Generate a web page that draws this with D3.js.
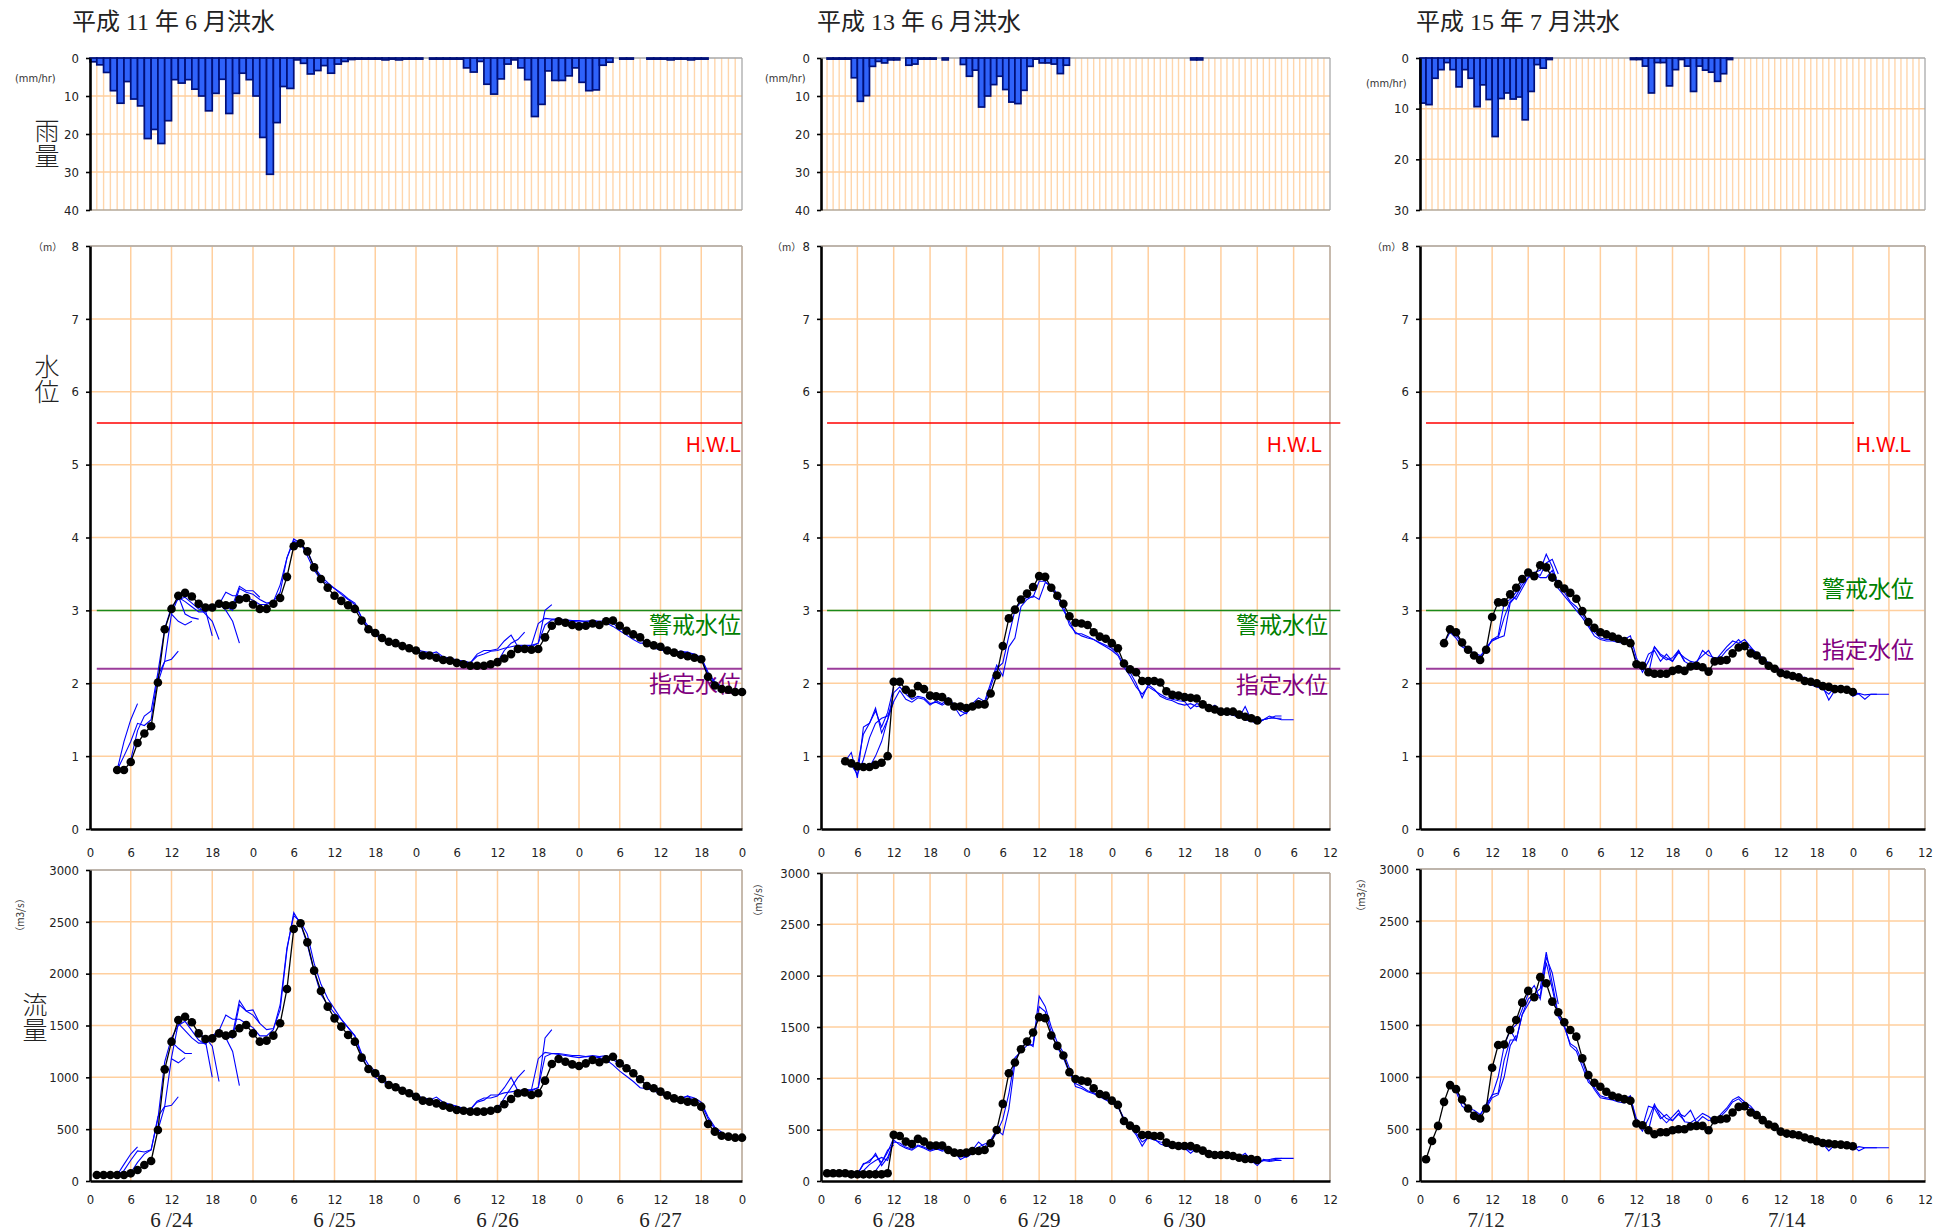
<!DOCTYPE html>
<html><head><meta charset="utf-8">
<script src="https://cdn.jsdelivr.net/npm/d3@7/dist/d3.min.js"></script>
<style>
body{margin:0;background:#fff;}
svg{display:block;}
</style></head><body>
<svg id="c" width="1950" height="1232"></svg>
<script>
// ================= DATA =================
const titles = ["平成 11 年 6 月洪水", "平成 13 年 6 月洪水", "平成 15 年 7 月洪水"];
const dateLabels1 = ["6 /24", "6 /25", "6 /26", "6 /27"];
const dateLabels2 = ["6 /28", "6 /29", "6 /30"];
const dateLabels3 = ["7/12", "7/13", "7/14"];
const hourTickLabels = ["0","6","12","18"];
const rainTicks40 = [0, 10, 20, 30, 40];
const rainTicks30 = [0, 10, 20, 30];
const levelTicks = [0, 1, 2, 3, 4, 5, 6, 7, 8];
const flowTicks = [0, 500, 1000, 1500, 2000, 2500, 3000];
const thresholdNames = ["H.W.L", "警戒水位", "指定水位"];
const thresholdLevels = [5.57, 3.0, 2.2];
const axisTitles = ["雨量", "水位", "流量"];

// hourly rainfall (mm/hr), index = hour from start of first day
const rain1 = [1.0,1.8,3.8,8.6,11.9,6.2,10.8,12.6,21.2,18.8,22.5,16.5,5.7,6.6,5.7,8.2,10.0,13.9,9.3,5.6,
 14.6,9.3,4.0,5.7,10.0,20.9,30.6,17.0,7.5,8.0,0.5,1.4,4.2,3.3,2.0,4.0,1.6,0.9,0.4,0.3,
 0.3,0.3,0.3,0.5,0.3,0.5,0.3,0.3,0.3,null,0.3,0.3,0.3,0.3,0.3,2.6,3.7,0.9,6.9,9.5,
 5.5,1.6,0.5,2.6,5.7,15.4,12.2,3.4,5.9,5.9,4.7,2.6,6.4,8.6,8.4,1.9,1.1,null,0.3,0.3,
 null,null,0.3,0.3,0.3,0.5,0.3,0.3,0.5,0.3,0.3,null,null,null,null,null];
const rain2 = [null,0.3,0.3,0.3,0.3,5.2,11.4,9.9,2.2,0.9,1.3,0.5,0.5,null,1.9,1.6,0.3,0.3,0.3,null,
 0.5,null,null,1.7,4.8,3.2,12.9,10.0,7.0,4.8,8.3,11.6,12.0,8.5,2.2,0.3,1.3,1.3,1.6,4.1,
 1.9,null,null,null,null,null,null,null,null,null,null,null,null,null,null,null,null,null,null,null,
 null,0.5,0.5,null,null,null,null,null,null,null,null,null,null,null,null,null,null,null,null,null,
 null,null,null,null];
const rain3 = [8.9,9.2,4.0,2.3,0.9,2.3,5.7,2.3,4.0,9.6,5.3,8.2,15.5,8.0,6.9,8.1,7.7,12.2,6.6,1.3,
 2.0,0.3,null,null,null,null,null,null,null,null,null,null,null,null,null,0.3,0.3,1.6,6.9,0.9,
 0.9,5.5,2.3,0.3,1.6,6.6,1.6,2.4,2.8,4.6,3.1,0.3,null,null,null,null,null,null,null,null,
 null,null,null,null,null,null,null,null,null,null,null,null,null,null,null,null,null,null,null,null,
 null,null,null,null];

// observed water level (m), hourly from given start hour
const level1Start = 4;
const level1Obs = [0.81,0.81,0.92,1.18,1.31,1.41,2.01,2.74,3.02,3.20,3.24,3.19,3.09,3.04,3.04,3.09,3.07,3.07,3.15,3.17,
 3.08,3.02,3.02,3.09,3.17,3.46,3.88,3.92,3.81,3.59,3.43,3.31,3.20,3.13,3.07,3.02,2.86,2.74,2.69,2.62,
 2.57,2.55,2.51,2.48,2.45,2.38,2.38,2.35,2.32,2.31,2.28,2.26,2.24,2.24,2.24,2.26,2.29,2.34,2.40,2.47,
 2.47,2.46,2.47,2.63,2.79,2.85,2.83,2.80,2.78,2.79,2.82,2.80,2.85,2.86,2.79,2.72,2.67,2.63,2.55,2.52,
 2.50,2.45,2.42,2.39,2.37,2.35,2.33,2.09,1.97,1.92,1.91,1.88,1.88];
const level2Start = 4;
const level2Obs = [0.93,0.90,0.86,0.85,0.85,0.88,0.91,1.00,2.02,2.02,1.91,1.86,1.96,1.92,1.83,1.82,1.81,1.75,1.68,1.68,
 1.66,1.68,1.71,1.71,1.86,2.11,2.51,2.89,3.01,3.15,3.23,3.32,3.47,3.46,3.31,3.20,3.09,2.92,2.83,2.82,
 2.80,2.70,2.64,2.61,2.55,2.48,2.27,2.19,2.15,2.03,2.03,2.03,2.01,1.89,1.84,1.83,1.81,1.80,1.79,1.71,
 1.66,1.64,1.61,1.61,1.61,1.57,1.54,1.52,1.49];
const level3Start = 4;
const level3Obs = [2.55,2.74,2.70,2.56,2.46,2.38,2.32,2.46,2.91,3.11,3.11,3.22,3.31,3.43,3.52,3.47,3.62,3.59,3.45,3.36,
 3.30,3.24,3.16,2.99,2.84,2.76,2.70,2.67,2.64,2.61,2.58,2.55,2.26,2.24,2.15,2.13,2.13,2.13,2.17,2.19,
 2.17,2.23,2.24,2.22,2.16,2.30,2.31,2.32,2.41,2.49,2.51,2.41,2.38,2.31,2.24,2.20,2.14,2.12,2.10,2.08,
 2.03,2.02,2.00,1.96,1.95,1.92,1.92,1.91,1.88];

// observed discharge (m3/s)
const flow1Start = 1;
const flow1Obs = [58,58,58,58,58,74,106,154,193,492,1077,1344,1553,1585,1531,1424,1370,1376,1424,1402,
 1418,1473,1505,1424,1344,1354,1402,1521,1852,2431,2486,2302,2029,1833,1682,1569,1489,1408,1344,1190,
 1080,1039,984,926,904,871,846,813,775,765,749,727,707,685,678,669,669,669,678,694,
 740,791,846,855,830,846,968,1129,1177,1151,1125,1109,1135,1167,1145,1174,1199,1135,1087,1039,
 981,916,894,862,826,797,781,765,759,717,550,476,437,428,418,418];
const flow2Start = 1;
const flow2Obs = [75,75,75,75,65,65,65,65,65,65,75,449,439,384,361,410,384,345,345,345,
 302,276,270,276,292,292,302,367,497,751,1050,1154,1284,1358,1446,1596,1586,1417,1316,1222,
 1060,994,978,968,903,848,832,783,741,585,539,507,448,448,439,439,374,351,341,341,
 341,318,296,263,253,253,253,244,227,214,214,205];
const flow3Start = 1;
const flow3Obs = [209,385,530,761,922,883,784,697,626,601,697,1089,1307,1313,1452,1548,1715,1828,1767,1960,
 1902,1725,1622,1526,1452,1388,1179,1018,944,906,858,819,803,787,771,553,536,488,450,469,
 469,488,498,498,524,530,530,488,585,594,601,659,713,720,659,633,585,543,520,475,
 456,450,440,418,402,382,366,360,353,350,344,334];

// forecast (blue) series: hourly values from start hour
const level1FcA = {s:4, v:[0.81,1.0,1.2,1.45,1.42,1.5,2.1,2.3,2.95,3.18,3.12,3.05,2.98,2.98,3.05,3.1,3.05,3.0,3.3,3.25,
 3.22,3.15,3.1,3.12,3.25,3.72,3.98,3.92,3.75,3.55,3.42,3.36,3.3,3.24,3.16,3.1,2.9,2.74,2.66,2.6,
 2.56,2.53,2.5,2.47,2.44,2.42,2.4,2.43,2.36,2.35,2.32,2.3,2.28,2.37,2.4,2.44,2.45,2.48,2.5,2.52,
 2.52,2.52,2.82,2.89,2.88,2.88,2.87,2.86,2.86,2.85,2.85,2.84,2.83,2.78,2.72,2.66,2.6,2.55,2.55,2.48,
 2.46,2.43,2.42,2.41,2.43,2.38,2.35,2.12,2.0,1.94,1.9]};
const level1FcB = {s:6, v:[0.95,1.35,1.55,1.62,2.15,2.75,3.05,3.15,3.18,3.1,3.02,3.0,3.05,3.08,3.25,3.2,3.2,3.18,3.14,3.08,
 3.08,3.12,3.35,3.72,3.95,3.9,3.82,3.6,3.47,3.38,3.3,3.22,3.15,3.08,2.9,2.78,2.7,2.63,2.58,2.56,
 2.52,2.5,2.46,2.44,2.42,2.38,2.35,2.33,2.31,2.3,2.28,2.4,2.45,2.45,2.47,2.58,2.66,2.5,2.5,2.52,
 2.55,2.8,2.87,2.87,2.86,2.85,2.84,2.85,2.86,2.85,2.86,2.82,2.76,2.7,2.65,2.6,2.55,2.5,2.48,2.44,
 2.42,2.44,2.42,2.4,2.35,2.15,2.02,1.96]};
const level1Runs = [{s:4,v:[0.81,1.2,1.5,1.72]},{s:10,v:[2.01,2.3,2.33,2.44]},{s:12,v:[2.95,2.85,2.8,2.85]},
 {s:13,v:[3.2,2.95,2.9,2.88]},{s:16,v:[3.09,3.0,2.65]},{s:16,v:[3.05,2.95,2.85,2.6]},{s:19,v:[3.09,3.0,2.85,2.55]},
 {s:21,v:[3.07,3.33,3.27,3.27,3.18]},{s:60,v:[2.29,2.45,2.55,2.6,2.7]},{s:64,v:[2.47,2.5,2.55,3.0,3.08]}];
const flow1FcA = {s:4, v:[58,100,200,290,280,300,620,720,1190,1520,1450,1380,1330,1330,1400,1430,1400,1380,1700,1640,
 1600,1520,1460,1470,1650,2230,2590,2480,2280,2020,1800,1700,1620,1560,1480,1400,1200,1080,1000,960,
 920,890,870,840,820,800,780,810,760,740,720,700,690,760,780,830,830,850,860,870,
 880,880,1180,1240,1230,1230,1220,1210,1210,1200,1200,1190,1170,1120,1060,1010,960,900,890,870,
 840,810,800,790,820,770,740,600,500,450]};
const flow1FcB = {s:6, v:[80,180,260,300,600,1150,1380,1500,1540,1450,1360,1320,1400,1450,1600,1560,1560,1520,1480,1400,
 1400,1460,1700,2250,2560,2500,2380,2100,1900,1760,1660,1560,1480,1400,1230,1120,1060,1000,940,920,
 890,860,830,800,790,770,750,730,720,700,690,770,800,800,820,900,1000,870,880,870,
 900,1200,1230,1220,1210,1200,1190,1200,1210,1200,1210,1170,1130,1080,1030,970,930,900,870,840,
 810,800,820,800,760,620,520,470]};
const flow1Runs = [{s:4,v:[58,160,260,330]},{s:10,v:[492,717,730,813]},{s:12,v:[1180,1140,1190]},
 {s:12,v:[1344,1280,1230,1230]},{s:16,v:[1424,1350,1000]},{s:16,v:[1424,1380,1300,960]},{s:19,v:[1424,1380,1250,920]},
 {s:21,v:[1418,1740,1640,1650,1520]},{s:60,v:[694,800,900,1000,1070]},{s:64,v:[855,880,900,1380,1460]}];

const level2FcA = {s:4, v:[0.93,1.05,0.7,1.4,1.45,1.66,1.32,1.5,1.87,1.95,1.85,1.78,1.82,1.8,1.72,1.74,1.7,1.75,1.68,1.55,
 1.6,1.7,1.75,1.72,1.95,2.2,2.28,2.65,3.0,3.12,3.18,3.18,3.4,3.4,3.3,3.18,3.0,2.85,2.68,2.68,
 2.64,2.6,2.55,2.5,2.45,2.38,2.22,2.1,1.95,1.85,1.95,1.9,1.85,1.8,1.78,1.76,1.75,1.65,1.72,1.7,
 1.68,1.62,1.65,1.6,1.58,1.55,1.5,1.48,1.45,1.5,1.55,1.52,1.5,1.5,1.5]};
const level2FcB = {s:5, v:[0.88,0.75,0.95,1.25,1.45,1.52,1.55,1.75,1.9,1.78,1.74,1.8,1.78,1.7,1.76,1.72,1.8,1.7,1.62,
 1.58,1.72,1.8,1.75,2.0,2.25,2.1,2.5,2.62,3.05,3.15,3.2,3.15,3.38,3.35,3.22,3.05,2.8,2.7,2.65,
 2.62,2.6,2.56,2.52,2.48,2.4,2.25,2.15,2.0,1.8,1.98,1.92,1.82,1.78,1.76,1.72,1.7,1.72,1.68,1.7,
 1.65,1.7,1.62,1.58,1.56,1.53,1.68,1.5,1.48,1.5,1.52,1.52,1.52]};
const level2Runs = [{s:6,v:[0.86,1.3,1.45,1.62,1.4,1.6,1.95]},{s:8,v:[0.85,1.0,1.2,1.5,1.75]},
 {s:70,v:[1.54,1.52,1.45,1.5,1.52,1.55,1.55]}];
const flow2FcA = {s:5, v:[65,65,170,180,270,150,230,380,370,330,310,350,330,300,320,290,310,280,250,
 230,270,330,360,380,470,600,850,1200,1260,1320,1330,1800,1700,1500,1350,1250,1100,920,900,
 870,850,820,790,760,720,600,540,470,380,420,400,380,370,350,330,320,270,320,300,
 290,270,280,260,250,240,230,200,150,210,200,210,220,220,220]};
const flow2FcB = {s:6, v:[65,100,160,200,230,200,400,350,320,300,340,320,290,310,300,330,290,210,
 240,300,380,330,400,500,450,700,1150,1300,1350,1310,1700,1650,1450,1300,1200,1050,950,920,
 880,860,830,800,770,730,610,530,450,340,430,410,360,340,330,320,310,300,310,290,
 280,270,270,250,240,230,270,200,190,200,190,200,200]};
const flow2Runs = [{s:6,v:[65,160,200,250,180,280,420]},{s:8,v:[65,100,180,300,350]},
 {s:70,v:[214,205,170,200,210,220,220]}];

const level3FcA = {s:4, v:[2.55,2.7,2.62,2.5,2.45,2.42,2.38,2.45,2.6,2.65,3.1,3.15,3.25,3.4,3.5,3.52,3.55,3.77,3.6,3.35,
 3.25,3.12,3.05,2.95,2.8,2.7,2.62,2.6,2.6,2.58,2.6,2.65,2.35,2.15,2.3,2.5,2.38,2.32,2.35,2.45,
 2.3,2.25,2.3,2.38,2.45,2.3,2.4,2.5,2.58,2.55,2.6,2.5,2.4,2.35,2.28,2.22,2.18,2.15,2.12,2.1,
 2.05,2.02,1.98,1.95,1.77,1.9,1.93,1.92,1.9,1.85,1.78,1.85,1.85,1.85,1.85]};
const level3FcB = {s:5, v:[2.7,2.66,2.55,2.44,2.4,2.35,2.5,2.58,2.62,2.9,3.12,3.2,3.35,3.45,3.5,3.45,3.45,3.55,3.3,
 3.2,3.1,3.0,2.9,2.78,2.65,2.6,2.58,2.58,2.56,2.55,2.55,2.3,2.2,2.4,2.45,2.3,2.4,2.3,2.42,
 2.35,2.3,2.28,2.45,2.38,2.35,2.35,2.45,2.52,2.6,2.5,2.48,2.42,2.34,2.26,2.2,2.16,2.14,2.1,2.08,
 2.08,1.98,1.95,1.92,1.85,1.95,1.9,1.92,1.82,1.86,1.84,1.85,1.85]};
const level3Runs = [{s:11,v:[2.46,2.6,2.62,2.65,3.1,3.2]},{s:15,v:[3.22,3.15,3.3,3.45,3.5,3.48,3.65,3.7,3.5]},
 {s:38,v:[2.13,2.5,2.4,2.35,2.3,2.45,2.3]}];
const flow3FcA = {s:5, v:[922,880,760,700,680,640,713,829,845,1163,1356,1356,1600,1750,1800,1850,2200,1900,1600,
 1500,1300,1250,1100,950,900,820,800,800,790,780,820,560,480,600,740,620,560,620,680,
 570,560,600,650,620,570,640,700,780,810,760,720,650,600,560,520,480,460,450,440,
 420,400,380,360,290,350,360,350,340,290,320,320,320,320,320]};
const flow3FcB = {s:5, v:[920,860,720,680,650,630,740,820,1000,1300,1450,1500,1650,1800,1880,1750,2100,1850,1580,
 1480,1320,1280,1150,980,880,800,790,780,760,750,800,600,520,720,700,600,640,580,650,
 620,680,560,620,580,600,620,680,760,790,730,700,640,590,550,510,470,460,440,430,
 410,390,370,350,330,360,340,340,300,330,320,320,320]};
const flow3Runs = [{s:11,v:[697,800,830,1000,1300,1400]},{s:15,v:[1452,1350,1600,1700,1800,1780,2150,2000,1700]},
 {s:38,v:[488,720,660,600,580,640,580]}];

// ================= LAYOUT / STYLE =================
const GRID = "#FFCF9E";
const GRID_THIN = "#FFD6AC";
const BORDER = "#A9A9A9";
const TICKFONT = "'Liberation Sans Narrow','DejaVu Sans Condensed','Liberation Sans',sans-serif";
const CJK = "'Noto Sans CJK JP','Noto Sans CJK SC',sans-serif";
const SERIF = "'Liberation Serif','Noto Sans CJK JP',serif";
const RAIN_TOP = 58, RAIN_BOT = 210;
const LV_TOP = 246, LV_BOT = 829;
const FL_BOT = 1181;

const panels = [
  {x0:90, x1:742, hours:96, rain:rain1, rainTicks:rainTicks40, title:titles[0], titleX:72,
   lvStart:level1Start, lvObs:level1Obs, lvFc:[level1FcA, level1FcB], lvRuns:level1Runs,
   flStart:flow1Start, flObs:flow1Obs, flFc:[flow1FcA, flow1FcB], flRuns:flow1Runs,
   flTop:870, thrHours:[1,96], dates:dateLabels1, dateHours:[12,36,60,84],
   mmX:15, mmY:82, mX:33, m3X:19, m3Y:915,
   thrText:[[741,452],[741,633],[741,692]], hwlW:55},
  {x0:821, x1:1330, hours:84, rain:rain2, rainTicks:rainTicks40, title:titles[1], titleX:817,
   lvStart:level2Start, lvObs:level2Obs, lvFc:[level2FcA, level2FcB], lvRuns:level2Runs,
   flStart:flow2Start, flObs:flow2Obs, flFc:[flow2FcA, flow2FcB], flRuns:flow2Runs,
   flTop:873, thrHours:[1,85.7], dates:dateLabels2, dateHours:[12,36,60],
   mmX:765, mmY:82, mX:772, m3X:757, m3Y:900,
   thrText:[[1322,452],[1328,633],[1328,693]], hwlW:55},
  {x0:1420, x1:1925, hours:84, rain:rain3, rainTicks:rainTicks30, title:titles[2], titleX:1416,
   lvStart:level3Start, lvObs:level3Obs, lvFc:[level3FcA, level3FcB], lvRuns:level3Runs,
   flStart:flow3Start, flObs:flow3Obs, flFc:[flow3FcA, flow3FcB], flRuns:flow3Runs,
   flTop:869, thrHours:[1,72.2], dates:dateLabels3, dateHours:[11,37,61],
   mmX:1366, mmY:87, mX:1372, m3X:1360, m3Y:895,
   thrText:[[1911,452],[1914,597],[1914,658]], hwlW:55}
];
const thrColors = ["#FF0000", "#008000", "#800080"];
const thrLineColors = ["#FF0000", "#1A8A1A", "#9B3C9B"];

const svg = d3.select("#c");
svg.append("rect").attr("width",1950).attr("height",1232).attr("fill","#fff");

function series(start, arr){ return arr.map((v,i)=>({h:start+i, v})).filter(d=>d.v!=null); }

function frame(g, x0, x1, yTop, yBot){
  g.append("line").attr("x1",x0).attr("x2",x1).attr("y1",yTop).attr("y2",yTop).attr("stroke",BORDER).attr("stroke-width",1.3);
  g.append("line").attr("x1",x1).attr("x2",x1).attr("y1",yTop).attr("y2",yBot).attr("stroke",BORDER).attr("stroke-width",1.3);
}

function styleAxis(ax){
  ax.select(".domain").attr("stroke","#000").attr("stroke-width",2.6);
  ax.selectAll(".tick line").attr("stroke","#000").attr("stroke-width",1.6);
  ax.selectAll(".tick text").attr("font-family",TICKFONT).attr("font-size",13).attr("fill","#222");
}

panels.forEach((p, pi) => {
  const x = d3.scaleLinear().domain([0, p.hours]).range([p.x0, p.x1]);
  const sixes = d3.range(0, p.hours + 1, 6);

  // ---------- title ----------
  svg.append("text").attr("x", p.titleX).attr("y", 30).text(p.title)
    .attr("font-family", SERIF).attr("font-size", 24).attr("fill", "#222");

  // ---------- rain ----------
  const rainMax = p.rainTicks[p.rainTicks.length-1];
  const yR = d3.scaleLinear().domain([0, rainMax]).range([RAIN_TOP, RAIN_BOT]);
  const gR = svg.append("g");
  gR.selectAll(".vg").data(d3.range(1, p.hours)).join("line")
    .attr("x1", d=>x(d)).attr("x2", d=>x(d)).attr("y1", RAIN_TOP).attr("y2", RAIN_BOT)
    .attr("stroke", GRID_THIN).attr("stroke-width", 1.4);
  gR.selectAll(".hg").data(p.rainTicks.slice(1)).join("line")
    .attr("x1", p.x0).attr("x2", p.x1).attr("y1", d=>yR(d)).attr("y2", d=>yR(d))
    .attr("stroke", d => d===rainMax ? "#B5A898" : GRID).attr("stroke-width", 1.5);
  frame(gR, p.x0, p.x1, RAIN_TOP, RAIN_BOT);
  gR.selectAll("rect.bar").data(p.rain.map((v,i)=>({i,v})).filter(d=>d.v!=null)).join("rect")
    .attr("class","bar")
    .attr("x", d=>x(d.i)).attr("width", d=>x(d.i+1)-x(d.i))
    .attr("y", RAIN_TOP).attr("height", d=>yR(d.v)-RAIN_TOP)
    .attr("fill", "#2F62FA").attr("stroke", "#00107A").attr("stroke-width", 1.7);
  const axR = gR.append("g").attr("transform", `translate(${p.x0},0)`)
    .call(d3.axisLeft(yR).tickValues(p.rainTicks).tickSize(4).tickSizeOuter(0).tickPadding(7));
  styleAxis(axR);
  svg.append("text").attr("x", p.mmX).attr("y", p.mmY).text("(mm/hr)")
    .attr("font-family", TICKFONT).attr("font-size", 11).attr("fill","#333");

  // ---------- level ----------
  const yL = d3.scaleLinear().domain([0, 8]).range([LV_BOT, LV_TOP]);
  const gL = svg.append("g");
  gL.selectAll(".vg").data(sixes.slice(1)).join("line")
    .attr("x1", d=>x(d)).attr("x2", d=>x(d)).attr("y1", LV_TOP).attr("y2", LV_BOT)
    .attr("stroke", GRID).attr("stroke-width", 1.5);
  gL.selectAll(".hg").data(levelTicks.slice(1)).join("line")
    .attr("x1", p.x0).attr("x2", p.x1).attr("y1", d=>yL(d)).attr("y2", d=>yL(d))
    .attr("stroke", GRID).attr("stroke-width", 1.5);
  frame(gL, p.x0, p.x1, LV_TOP, LV_BOT);
  thresholdLevels.forEach((lv, k) => {
    gL.append("line").attr("x1", x(p.thrHours[0])).attr("x2", x(p.thrHours[1]))
      .attr("y1", yL(lv)).attr("y2", yL(lv)).attr("stroke", thrLineColors[k]).attr("stroke-width", k===2 ? 2 : 1.5);
    const t = gL.append("text").attr("x", p.thrText[k][0]).attr("y", p.thrText[k][1])
      .attr("text-anchor", "end").attr("fill", thrColors[k]).text(thresholdNames[k]);
    if (k === 0) {
      t.attr("font-family", "'Liberation Sans',sans-serif").attr("font-size", 22)
       .attr("textLength", p.hwlW).attr("lengthAdjust", "spacingAndGlyphs");
    } else {
      t.attr("font-family", CJK).attr("font-size", 23);
    }
  });
  const lineL = d3.line().x(d=>x(d.h)).y(d=>yL(d.v));
  p.lvFc.concat(p.lvRuns).forEach(r => {
    gL.append("path").attr("d", lineL(series(r.s, r.v))).attr("fill","none")
      .attr("stroke","#0000FF").attr("stroke-width",1.1);
  });
  const obsL = series(p.lvStart, p.lvObs);
  gL.append("path").attr("d", lineL(obsL)).attr("fill","none").attr("stroke","#000").attr("stroke-width",1.3);
  gL.selectAll("circle").data(obsL).join("circle")
    .attr("cx", d=>x(d.h)).attr("cy", d=>yL(d.v)).attr("r", 4.3).attr("fill","#000");
  const axL = gL.append("g").attr("transform", `translate(${p.x0},0)`)
    .call(d3.axisLeft(yL).tickValues(levelTicks).tickSize(4).tickSizeOuter(0).tickPadding(7));
  styleAxis(axL);
  const axLB = gL.append("g").attr("transform", `translate(0,${LV_BOT})`)
    .call(d3.axisBottom(x).tickValues(sixes).tickSize(0).tickPadding(19).tickFormat(d => hourTickLabels[(d%24)/6]));
  styleAxis(axLB);
  svg.append("text").attr("x", p.mX).attr("y", 251).text("（m）")
    .attr("font-family", CJK).attr("font-size", 10).attr("fill","#333");

  // ---------- flow ----------
  const yF = d3.scaleLinear().domain([0, 3000]).range([FL_BOT, p.flTop]);
  const gF = svg.append("g");
  gF.selectAll(".vg").data(sixes.slice(1)).join("line")
    .attr("x1", d=>x(d)).attr("x2", d=>x(d)).attr("y1", p.flTop).attr("y2", FL_BOT)
    .attr("stroke", GRID).attr("stroke-width", 1.5);
  gF.selectAll(".hg").data(flowTicks.slice(1)).join("line")
    .attr("x1", p.x0).attr("x2", p.x1).attr("y1", d=>yF(d)).attr("y2", d=>yF(d))
    .attr("stroke", GRID).attr("stroke-width", 1.5);
  frame(gF, p.x0, p.x1, p.flTop, FL_BOT);
  const lineF = d3.line().x(d=>x(d.h)).y(d=>yF(d.v));
  p.flFc.concat(p.flRuns).forEach(r => {
    gF.append("path").attr("d", lineF(series(r.s, r.v))).attr("fill","none")
      .attr("stroke","#0000FF").attr("stroke-width",1.1);
  });
  const obsF = series(p.flStart, p.flObs);
  gF.append("path").attr("d", lineF(obsF)).attr("fill","none").attr("stroke","#000").attr("stroke-width",1.3);
  gF.selectAll("circle").data(obsF).join("circle")
    .attr("cx", d=>x(d.h)).attr("cy", d=>yF(d.v)).attr("r", 4.3).attr("fill","#000");
  const axF = gF.append("g").attr("transform", `translate(${p.x0},0)`)
    .call(d3.axisLeft(yF).tickValues(flowTicks).tickSize(4).tickSizeOuter(0).tickPadding(7).tickFormat(d3.format("d")));
  styleAxis(axF);
  const axFB = gF.append("g").attr("transform", `translate(0,${FL_BOT})`)
    .call(d3.axisBottom(x).tickValues(sixes).tickSize(0).tickPadding(14).tickFormat(d => hourTickLabels[(d%24)/6]));
  styleAxis(axFB);
  svg.append("text").attr("transform", `translate(${p.m3X},${p.m3Y}) rotate(-90)`)
    .attr("text-anchor","middle").attr("dominant-baseline","central").text("（m3/s）")
    .attr("font-family", CJK).attr("font-size", 10).attr("fill","#333");
  svg.selectAll(null).data(p.dates).join("text")
    .attr("x", (d,i)=>x(p.dateHours[i])).attr("y", 1227).attr("text-anchor","middle")
    .text(d=>d).attr("font-family", SERIF).attr("font-size", 21).attr("fill","#222");
});

// vertical axis titles (left column only), written top-to-bottom
const axisTitlePos = [[47,143],[47,379],[35,1017]];
axisTitles.forEach((t, i) => {
  svg.append("text").attr("x", axisTitlePos[i][0]).attr("y", axisTitlePos[i][1]).text(t)
    .attr("text-anchor","middle").style("writing-mode","vertical-rl")
    .attr("font-family", CJK).attr("font-weight",300).attr("font-size",25).attr("fill","#222");
});
</script>
</body></html>
